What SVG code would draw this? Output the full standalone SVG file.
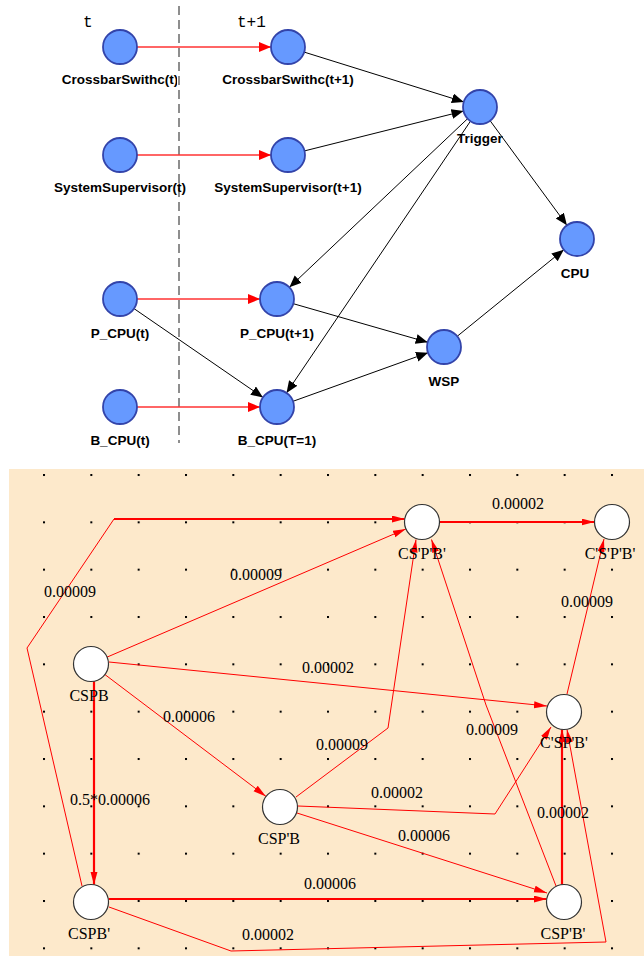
<svg xmlns="http://www.w3.org/2000/svg" width="644" height="956" viewBox="0 0 644 956">
<style>
.tn{fill:#6699ff;stroke:#3344aa;stroke-width:1.8}
.tl{font-family:"Liberation Sans",Arial,sans-serif;font-size:13.5px;font-weight:bold;fill:#000;text-anchor:middle}
.tm{font-family:"Liberation Mono","Courier New",monospace;font-size:16px;fill:#000}
.be{stroke:#000;stroke-width:1;fill:none}
.re{stroke:#ff3333;stroke-width:1.4;fill:none}
.bn{fill:#fff;stroke:#333;stroke-width:1.2}
.bl{font-family:"Liberation Serif","Times New Roman",serif;font-size:16px;fill:#000;text-anchor:middle}
.e1{stroke:#ff0000;stroke-width:1;fill:none}
.e2{stroke:#ff0000;stroke-width:2.2;fill:none}
</style>
<defs>
<marker id="ba" markerUnits="userSpaceOnUse" markerWidth="13" markerHeight="11" refX="12" refY="5" orient="auto"><path d="M0,0 L12,5 L0,10 z" fill="#000"/></marker>
<marker id="rt" markerUnits="userSpaceOnUse" markerWidth="13" markerHeight="11" refX="12" refY="5" orient="auto"><path d="M0,0 L12,5 L0,10 z" fill="#ff0000"/></marker>
<marker id="ra" markerUnits="userSpaceOnUse" markerWidth="14" markerHeight="8" refX="13" refY="3.5" orient="auto"><path d="M0,0 L13,3.5 L0,7 z" fill="#ff0000"/></marker>
<pattern id="dots" patternUnits="userSpaceOnUse" x="43" y="474" width="47.333" height="47.333"><rect width="2" height="2" fill="#000"/></pattern>
<clipPath id="c1"><rect x="0" y="60" width="177" height="40"/></clipPath>
<clipPath id="c2"><rect x="180" y="60" width="175" height="40"/></clipPath>
<clipPath id="c3"><rect x="0" y="170" width="186" height="40"/></clipPath>
<clipPath id="c4"><rect x="190" y="170" width="175" height="40"/></clipPath>
</defs>
<rect width="644" height="956" fill="#fff"/>

<!-- top panel -->
<line x1="179" y1="6" x2="179" y2="443" stroke="#444" stroke-width="1.2" stroke-dasharray="9 5"/>
<text class="tm" x="83" y="27">t</text>
<text class="tm" x="237" y="27">t+1</text>

<g id="top-connectors">
<line class="re" x1="137" y1="47" x2="271" y2="47" marker-end="url(#rt)"/>
<line class="re" x1="137" y1="155" x2="271" y2="155" marker-end="url(#rt)"/>
<line class="re" x1="137" y1="299" x2="260" y2="299" marker-end="url(#rt)"/>
<line class="re" x1="137" y1="407" x2="260" y2="407" marker-end="url(#rt)"/>
<line class="be" x1="304.2" y1="52.1" x2="463.8" y2="101.9" marker-end="url(#ba)"/>
<line class="be" x1="304.5" y1="150.9" x2="463.5" y2="111.1" marker-end="url(#ba)"/>
<line class="be" x1="467.6" y1="118.7" x2="289.4" y2="287.3" marker-end="url(#ba)"/>
<line class="be" x1="470.5" y1="121.1" x2="286.5" y2="392.9" marker-end="url(#ba)"/>
<line class="be" x1="490.1" y1="120.7" x2="566.9" y2="225.3" marker-end="url(#ba)"/>
<line class="be" x1="134" y1="308.6" x2="263" y2="397.4" marker-end="url(#ba)"/>
<line class="be" x1="293.3" y1="303.7" x2="427.7" y2="342.3" marker-end="url(#ba)"/>
<line class="be" x1="293" y1="401.3" x2="428" y2="352.7" marker-end="url(#ba)"/>
<line class="be" x1="457.2" y1="336.3" x2="563.8" y2="249.7" marker-end="url(#ba)"/>
</g>

<g id="n-cs-t"><circle class="tn" cx="120" cy="47" r="17"/><text class="tl" x="120" y="84" clip-path="url(#c1)">CrossbarSwithc(t)</text></g>
<g id="n-cs-t1"><circle class="tn" cx="288" cy="47" r="17"/><text class="tl" x="288" y="84" clip-path="url(#c2)">CrossbarSwithc(t+1)</text></g>
<g id="n-ss-t"><circle class="tn" cx="120" cy="155" r="17"/><text class="tl" x="120" y="192" clip-path="url(#c3)">SystemSupervisor(t)</text></g>
<g id="n-ss-t1"><circle class="tn" cx="288" cy="155" r="17"/><text class="tl" x="288" y="192" clip-path="url(#c4)">SystemSupervisor(t+1)</text></g>
<g id="n-trigger"><circle class="tn" cx="480" cy="107" r="17"/><text class="tl" x="480" y="143">Trigger</text></g>
<g id="n-cpu"><circle class="tn" cx="577" cy="239" r="17"/><text class="tl" x="575" y="278">CPU</text></g>
<g id="n-pcpu-t"><circle class="tn" cx="120" cy="299" r="17"/><text class="tl" x="120" y="338">P_CPU(t)</text></g>
<g id="n-pcpu-t1"><circle class="tn" cx="277" cy="299" r="17"/><text class="tl" x="277" y="338">P_CPU(t+1)</text></g>
<g id="n-wsp"><circle class="tn" cx="444" cy="347" r="17"/><text class="tl" x="444" y="386">WSP</text></g>
<g id="n-bcpu-t"><circle class="tn" cx="120" cy="407" r="17"/><text class="tl" x="120" y="445">B_CPU(t)</text></g>
<g id="n-bcpu-t1"><circle class="tn" cx="277" cy="407" r="17"/><text class="tl" x="277" y="445">B_CPU(T=1)</text></g>

<!-- bottom panel -->
<rect x="9" y="469" width="635" height="487" fill="#fde9cb"/>
<rect x="40" y="470" width="580" height="484" fill="url(#dots)"/>

<g id="bottom-connectors">
<polyline class="e1" points="82,886 27,648 114,519"/>
<line class="e2" x1="114" y1="519" x2="404.8" y2="519" marker-end="url(#ra)"/>
<line class="e1" x1="107.1" y1="657.1" x2="405.9" y2="528.9" marker-end="url(#ra)"/>
<line class="e2" x1="439.5" y1="522" x2="594.5" y2="522" marker-end="url(#ra)"/>
<line class="e1" x1="109" y1="662" x2="547" y2="706" marker-end="url(#ra)"/>
<line class="e1" x1="105" y1="674.6" x2="266" y2="796.4" marker-end="url(#ra)"/>
<line class="e2" x1="94" y1="681.2" x2="94" y2="884.8" marker-end="url(#ra)"/>
<polyline class="e1" points="296,797 388,728 416,539.5" marker-end="url(#ra)"/>
<polyline class="e1" points="556,886 486,705 431.5,539.5" marker-end="url(#ra)"/>
<line class="e1" x1="567" y1="694" x2="604" y2="539" marker-end="url(#ra)"/>
<polyline class="e1" points="298,806 495,814 551,727" marker-end="url(#ra)"/>
<line class="e1" x1="297" y1="813" x2="547" y2="893" marker-end="url(#ra)"/>
<line class="e2" x1="108.5" y1="899" x2="546.8" y2="899" marker-end="url(#ra)"/>
<line class="e2" x1="562" y1="884.8" x2="562" y2="729.4" marker-end="url(#ra)"/>
<polyline class="e1" points="109,907 231,951 606,942 567,729.5" marker-end="url(#ra)"/>
</g>

<g id="edge-labels">
<text class="bl" x="70" y="597">0.00009</text>
<text class="bl" x="256" y="580">0.00009</text>
<text class="bl" x="518" y="509">0.00002</text>
<text class="bl" x="328" y="673">0.00002</text>
<text class="bl" x="189" y="722">0.00006</text>
<text class="bl" x="110" y="805">0.5*0.00006</text>
<text class="bl" x="342" y="750">0.00009</text>
<text class="bl" x="492" y="735">0.00009</text>
<text class="bl" x="587" y="607">0.00009</text>
<text class="bl" x="397" y="798">0.00002</text>
<text class="bl" x="424" y="841">0.00006</text>
<text class="bl" x="330" y="889">0.00006</text>
<text class="bl" x="563" y="818">0.00002</text>
<text class="bl" x="268" y="940">0.00002</text>
</g>

<g id="n-cspb"><circle class="bn" cx="91" cy="664" r="17.5"/><text class="bl" x="89" y="701">CSPB</text></g>
<g id="n-csp1b1-top"><circle class="bn" cx="422" cy="522" r="17.5"/><text class="bl" x="422" y="559">CS'P'B'</text></g>
<g id="n-c1s1p1b1"><circle class="bn" cx="612" cy="522" r="17.5"/><text class="bl" x="610" y="559">C'S'P'B'</text></g>
<g id="n-c1sp1b1"><circle class="bn" cx="564" cy="712" r="17.5"/><text class="bl" x="564" y="748">C'SP'B'</text></g>
<g id="n-csp1b"><circle class="bn" cx="280" cy="807" r="17.5"/><text class="bl" x="279" y="844">CSP'B</text></g>
<g id="n-cspb1"><circle class="bn" cx="91" cy="902" r="17.5"/><text class="bl" x="89" y="939">CSPB'</text></g>
<g id="n-csp1b1"><circle class="bn" cx="564" cy="902" r="17.5"/><text class="bl" x="563" y="939">CSP'B'</text></g>
</svg>
